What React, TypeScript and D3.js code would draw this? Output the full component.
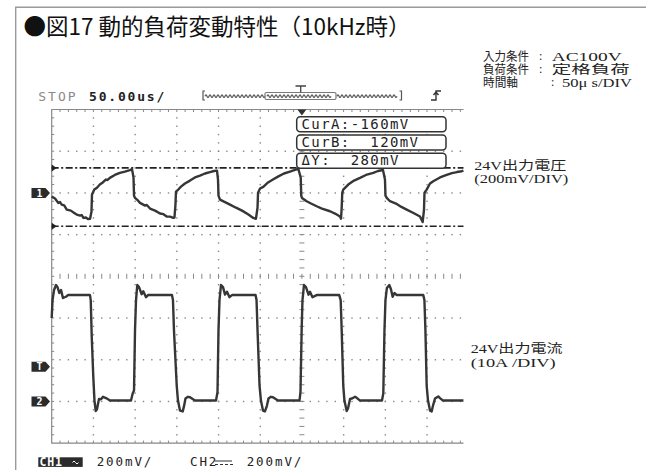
import * as d3 from "d3";

// CH1: 24V output voltage, AC coupled, mV vs time (us)
const ch1Trace: [number, number][] = [
  [0, -18], [4, -27], [8, -48], [10, -44], [12, -56], [15, -60], [18, -80], [23, -85],
  [27, -96], [30, -104], [34, -109], [36, -106], [38, -120], [41, -118], [43.5, -125], [46, -124],
  [47.7, -90], [48.3, -8], [51.1, 16], [54.3, 25], [57.7, 40], [61.3, 50], [64.9, 64], [67, 62],
  [69.7, 72], [75.7, 86], [81.7, 96], [87.8, 102], [93.8, 109], [96.3, 114],
  [98.1, 74], [98.7, -13], [99.9, -24], [102.3, -32], [105.9, -48], [111.9, -61], [114, -58],
  [117.9, -75], [123.9, -85], [129.9, -99], [134, -102], [137.9, -113], [141.9, -114], [145.8, -120], [147.2, -118],
  [148.4, -56], [149, 6], [151.8, 16], [155, 30], [159.8, 45], [165.8, 59], [171.8, 74], [177.8, 83],
  [183.8, 93], [189.8, 100], [194.6, 105], [198.2, 107],
  [199.4, 64], [200, -13], [201.8, -32], [206.6, -42], [213.8, -56], [221, -71], [228.2, -85],
  [235.4, -102], [241.7, -120], [244.9, -124],
  [246.8, -71], [247.4, 1], [249.8, 21], [253.7, 29], [259.4, 50], [265.3, 64], [271.3, 78],
  [278.5, 93], [285.7, 102], [291.7, 110], [295.7, 115],
  [298.6, 74], [299.2, -13], [300.1, -24], [305.7, -40], [310.9, -51], [317.7, -64], [324.1, -75],
  [333.7, -88], [339.7, -99], [345.7, -113], [346.9, -124],
  [347.7, -71], [348.4, 1], [349.6, 16], [355.6, 40], [362.5, 59], [369.7, 72], [376.8, 86],
  [385.6, 96], [391.2, 105], [397.2, 110],
  [399.6, 64], [400.2, -13], [401.7, -24], [405.6, -40], [412.8, -51], [418.8, -66], [425.6, -80],
  [433.2, -95], [441.6, -113], [444.8, -140],
  [446.4, -80], [447, 1], [449.6, 16], [453.6, 45], [457.5, 56], [465.6, 74], [473.6, 86],
  [479.9, 95], [485.9, 100], [491.6, 104], [493.7, 107],
];

// CH2: 24V output current, A vs time (us)
const ch2Trace: [number, number][] = [
  [0, 20], [1, 24.3], [2.8, 26.7], [5.2, 27.9], [7, 27.4], [9.1, 26], [11.2, 26.7], [13.5, 24.8],
  [17.1, 25.1], [19.5, 25.5], [45.9, 25.5], [46.8, 24.3], [48, 15.5], [49.9, 5.8], [51.3, 0.2],
  [52.8, -2.3], [54.3, -1.9], [56.7, 0.6], [59.1, 0.5], [61.5, 1.1], [65.1, 0.8], [69.9, 0.2],
  [95.1, 0.2], [97.1, 1.9], [98.7, 2.6], [99.9, 17.1], [101.1, 24.3], [102.6, 27.9], [104.7, 27.4],
  [107.9, 25.7], [109.8, 26.4], [113.1, 25], [115.5, 25.5], [144.2, 25.5], [145.4, 24.3],
  [146.6, 17.1], [149.9, 3.8], [151.4, 0.2], [153.8, -2.2], [157.1, -2.4], [158.6, -1.2],
  [160.4, 0.7], [163.4, 1.1], [165.8, 1], [171.8, 0.2],
  [197, 0.2], [198.8, 2.2], [200, 17.1], [201.2, 24.3], [203, 27.9], [205.4, 27.4], [207.8, 25.6],
  [210.2, 26.3], [213.2, 25], [216.2, 25.5], [244.4, 25.5], [245.6, 24.3], [246.8, 17.1],
  [249.2, 3.8], [250.9, 0.2], [253.3, -2.2], [255.7, -2.4], [258.1, -1], [259.9, 0.7],
  [262.9, 1.1], [265.3, 1], [271.3, 0.2],
  [297.1, 0.2], [298.3, 2.2], [299.7, 17.1], [300.7, 24.3], [302.5, 27.9], [304.9, 27.4],
  [307.9, 25.6], [309.7, 26.3], [312.7, 25], [317.7, 25.5], [344.8, 25.5], [346.5, 24.3],
  [347.7, 17.1], [349.6, 3.8], [351, 0.2], [353.7, -2.3], [355.3, -1.7], [357.7, 0.6],
  [360.1, 0.7], [363.7, 1.1], [366.1, 0.8], [369.7, 0.2],
  [396, 0.2], [397.6, 1.9], [399, 17.1], [400.2, 24.3], [401.9, 27.2], [404.8, 27.9],
  [406.8, 26.9], [408.8, 25.1], [411, 26], [413.7, 25.5], [445.5, 25.5], [446.9, 24.3],
  [448.1, 17.1], [449.6, 3.8], [451.2, 0.2], [453.6, -2.2], [455.6, -2.4], [457.2, -1],
  [459.6, 0.7], [463.5, 1.2], [465.6, 0.8], [469.2, 0.2], [493.7, 0.2],
];

const cursorValuesMv = [120, -160]; // CurB, CurA
const cursorLabels = ["CurA:-160mV", "CurB:  120mV", "ΔY:  280mV"];
const conditionNames = ["入力条件", "負荷条件", "時間軸"];
const conditionValues = ["AC100V", "定格負荷", "50μ s/DIV"];
const traceLabels = [
  { name: "24V出力電圧", scale: "(200mV/DIV)", ch: 1, value: 120 },
  { name: "24V出力電流", scale: "(10A /DIV)", ch: 2, value: 12 },
];
const channelMarkers = [
  { label: "1", ch: 1, value: 0 },
  { label: "T", ch: 2, value: 8.3 },
  { label: "2", ch: 2, value: 0 },
];

const W = 646;
const H = 470;
const L = 51.7;
const T = 109.5;
const DIV = 41.7;
const B = T + 8 * DIV;
const R = 463.5;
const MONO = "'DejaVu Sans Mono', monospace";
const SERIF = "'Liberation Serif', 'Noto Sans CJK JP', serif";

// measured placement of the condition notes and trace labels
const noteNameWidth = [46, 46, 35];
const noteValueX = [551.7, 551.7, 562];
const noteValueWidth = [70, 78, 70];
const noteColonX = [539, 539, 551];
const labelX = [474.3, 470.7];
const labelWidth = [[92, 94], [92, 85]];

export default function App() {
  const x = d3.scaleLinear().domain([0, 600]).range([L, L + 12 * DIV]);
  const y1 = d3.scaleLinear().domain([-1200, 400]).range([B, T]); // 200mV/div
  const y2 = d3.scaleLinear().domain([-10, 70]).range([B, T]); // 10A/div

  const line1 = d3.line<[number, number]>().x((d) => x(d[0])).y((d) => y1(d[1]));
  const line2 = d3.line<[number, number]>().x((d) => x(d[0])).y((d) => y2(d[1]));

  const cx = x(300);
  const cy = T + 4 * DIV;
  const minor = DIV / 5;

  // graticule dots
  const dots: { x: number; y: number }[] = [];
  for (let k = 1; k * DIV + L < R; k++) {
    if (k === 6) continue;
    const gx = L + k * DIV;
    for (let j = 1; j < 40; j++) dots.push({ x: gx, y: T + j * minor });
  }
  for (let k = 1; k < 8; k++) {
    if (k === 4) continue;
    const gy = T + k * DIV;
    for (let j = 1; L + j * minor < R; j++) dots.push({ x: L + j * minor, y: gy });
  }
  const hTicks = d3.range(1, 60).map((j) => L + j * minor).filter((v) => v < R);
  const vTicks = d3.range(1, 40).map((j) => T + j * minor);

  // decorative memory-bar wave
  const wave = (x0: number, x1: number, yc: number) => {
    let p = `M${x0},${yc}`;
    for (let xx = x0; xx + 4 <= x1; xx += 4) p += ` q1,-2.6 2,0 q1,2.6 2,0`;
    return p;
  };

  const markerPath = (my: number) =>
    `M31.5,${my - 5} h14 l4.5,5 l-4.5,5 h-14 z`;

  return (
    <svg
      width={W}
      height={H}
      style={{ position: "absolute", left: 0, top: 0, background: "#fff" }}
    >
      {/* outer frame */}
      <path d={`M15.7,${H} V7.3 H${W}`} fill="none" stroke="#9a9a9a" strokeWidth={1.4} />

      {/* title */}
      <text x={23.5} y={35} fontFamily="'Noto Sans CJK JP', sans-serif" fontSize={22.5} fill="#111">
        ●図17 動的負荷変動特性（10kHz時）
      </text>

      {/* conditions */}
      <text fontFamily={SERIF} fontSize={12} fill="#222">
        {conditionNames.map((n, i) => {
          const by = 60.5 + i * 13.4;
          return [
            <tspan
              key={"n" + i}
              x={483}
              y={by}
              textLength={noteNameWidth[i]}
              lengthAdjust="spacingAndGlyphs"
            >
              {n}
            </tspan>,
            <tspan key={"c" + i} x={noteColonX[i]} y={by - 1}>
              :
            </tspan>,
            <tspan
              key={"v" + i}
              x={noteValueX[i]}
              y={by}
              textLength={noteValueWidth[i]}
              lengthAdjust="spacingAndGlyphs"
            >
              {conditionValues[i]}
            </tspan>,
          ];
        })}
      </text>

      {/* scope header */}
      <text x={38.3} y={100.7} fontFamily={MONO} fontSize={13} letterSpacing={2} fill="#8a8a8a">
        STOP
      </text>
      <text x={89} y={100.7} fontFamily={MONO} fontSize={13} fontWeight="bold" letterSpacing={1.8} fill="#222">
        50.00us/
      </text>
      <g fill="none" stroke="#555" strokeWidth={1.2}>
        <path d="M205,91 h-2 v9 h2" />
        <path d="M399.5,91 h2 v9 h-2" />
        <path d={wave(205, 265, 96.2)} />
        <path d={wave(337, 399, 96.2)} />
        <rect x={265} y={92.5} width={71} height={7} rx={1.5} stroke="#777" />
        <path d={wave(267, 334, 96.2)} />
        <path d={`M295.5,86 h10.5 M300.7,86 v6.5`} stroke="#444" strokeWidth={1.3} />
        <path d="M431,100 h5 v-9 h5 M433.5,95 l2.5,-3 l2.5,3" stroke="#333" strokeWidth={1.4} />
      </g>

      {/* graticule */}
      <g>
        {dots.map((d, i) => (
          <rect key={i} x={d.x - 0.65} y={d.y - 0.65} width={1.4} height={1.4} fill="#888" />
        ))}
        {hTicks.map((tx, i) => (
          <g key={"h" + i} stroke="#888" strokeWidth={1}>
            <line x1={tx} x2={tx} y1={T} y2={T + 2.5} />
            <line x1={tx} x2={tx} y1={B} y2={B - 2.5} />
            <line x1={tx} x2={tx} y1={cy - 2.5} y2={cy + 2.5} />
          </g>
        ))}
        {vTicks.map((ty, i) => (
          <g key={"v" + i} stroke="#888" strokeWidth={1}>
            <line x1={L} x2={L + 2.5} y1={ty} y2={ty} />
            <line x1={cx - 2.5} x2={cx + 2.5} y1={ty} y2={ty} />
          </g>
        ))}
        <path d={`M${R},${T} H${L} V${B} H${R}`} fill="none" stroke="#888" strokeWidth={1.2} />
      </g>

      {/* cursor lines */}
      {cursorValuesMv.map((v) => (
        <g key={v}>
          <line
            x1={L}
            x2={R}
            y1={y1(v)}
            y2={y1(v)}
            stroke="#222"
            strokeWidth={1.6}
            strokeDasharray="7 2.5 2 2.5"
          />
          <path d={`M${L},${y1(v) - 3.5} l5,3.5 l-5,3.5 z`} fill="#222" />
        </g>
      ))}

      {/* traces */}
      <path d={line1(ch1Trace) ?? ""} fill="none" stroke="#363636" strokeWidth={2.4} strokeLinejoin="round" />
      <path d={line2(ch2Trace) ?? ""} fill="none" stroke="#363636" strokeWidth={2.4} strokeLinejoin="round" />

      {/* trigger position */}
      <path d={`M${cx - 4.5},${T} h9 l-4.5,6 z`} fill="#333" />

      {/* cursor readouts */}
      {cursorLabels.map((s, i) => (
        <g key={s}>
          <rect
            x={296.7}
            y={116.7 + i * 18.3}
            width={149.3}
            height={15}
            rx={3.5}
            fill="#fff"
            stroke="#333"
            strokeWidth={1.5}
          />
          <text
            x={301.5}
            y={128.8 + i * 18.3}
            fontFamily={MONO}
            fontSize={14}
            letterSpacing={1.4}
            fill="#222"
            style={{ whiteSpace: "pre" }}
          >
            {s}
          </text>
        </g>
      ))}

      {/* channel markers */}
      {channelMarkers.map((m) => {
        const my = m.ch === 1 ? y1(m.value) : y2(m.value);
        return (
          <g key={m.label}>
            <path d={markerPath(my)} fill="#2b2b2b" />
            <text
              x={39.5}
              y={my + 3.6}
              fontFamily={MONO}
              fontWeight="bold"
              fontSize={10}
              textAnchor="middle"
              fill="#fff"
            >
              {m.label}
            </text>
          </g>
        );
      })}

      {/* trace labels */}
      {traceLabels.map((lb, i) => {
        const ly = (lb.ch === 1 ? y1(lb.value) : y2(lb.value)) + 2;
        return (
          <text key={lb.name} y={ly} fontFamily={SERIF} fontSize={12} fill="#222">
            <tspan x={labelX[i]} textLength={labelWidth[i][0]} lengthAdjust="spacingAndGlyphs">
              {lb.name}
            </tspan>
            <tspan x={labelX[i]} dy={13.4} textLength={labelWidth[i][1]} lengthAdjust="spacingAndGlyphs">
              {lb.scale}
            </tspan>
          </text>
        );
      })}

      {/* footer */}
      <rect x={38.3} y={457.3} width={44.4} height={9.6} fill="#2b2b2b" />
      <text x={39.5} y={466} fontFamily={MONO} fontWeight="bold" fontSize={11.5} letterSpacing={0.8} fill="#fff">
        CH1
      </text>
      <path d="M72.5,462.5 q1.5,-3 3,0 t3,0" fill="none" stroke="#fff" strokeWidth={1} />
      <text x={96.7} y={466.3} fontFamily={MONO} fontSize={12.5} letterSpacing={1.9} fill="#222">
        200mV/
      </text>
      <text x={190} y={466.3} fontFamily={MONO} fontSize={12.5} letterSpacing={1.9} fill="#222">
        CH2
      </text>
      <path d="M215,461 h17 M215,464.5 h3 m2,0 h3 m2,0 h3 m2,0 h3" stroke="#333" strokeWidth={1.2} />
      <text x={246.7} y={466.3} fontFamily={MONO} fontSize={12.5} letterSpacing={1.9} fill="#222">
        200mV/
      </text>
    </svg>
  );
}
